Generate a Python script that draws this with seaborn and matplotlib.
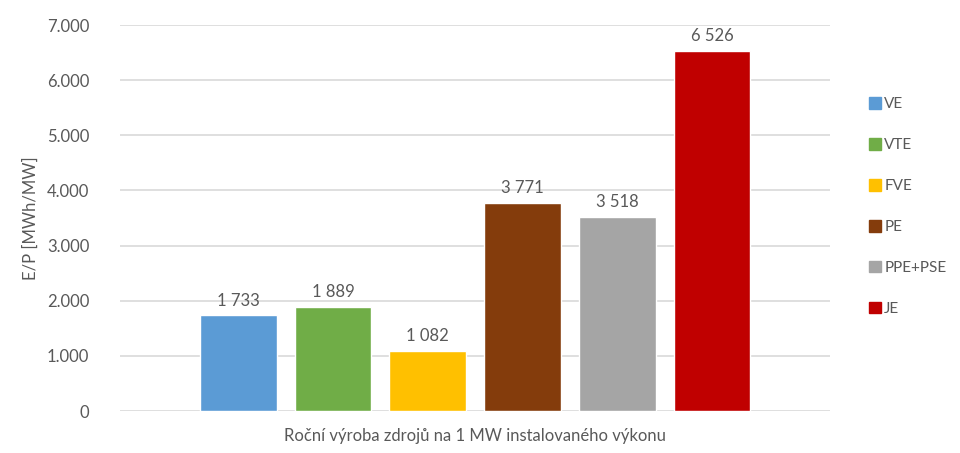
import matplotlib
matplotlib.use("Agg")
import matplotlib.pyplot as plt
import seaborn as sns
import pandas as pd

# Annual production per 1 MW installed capacity
sources = ["VE", "VTE", "FVE", "PE", "PPE+PSE", "JE"]
values = [1733, 1889, 1082, 3771, 3518, 6526]
colors = ["#5B9BD5", "#70AD47", "#FFC000", "#843C0C", "#A5A5A5", "#C00000"]
category = "Roční výroba zdrojů na 1 MW instalovaného výkonu"

df = pd.DataFrame({"group": [category] * len(sources), "source": sources, "value": values})

sns.set_style("white")
plt.rcParams["font.family"] = ["Lato", "DejaVu Sans"]
text_col = "#595959"

fig = plt.figure(figsize=(9.6, 4.53), dpi=100)
ax = fig.add_axes([0.125, 0.0927, 0.74, 0.852])

sns.barplot(data=df, x="group", y="value", hue="source", palette=colors,
            width=0.8, gap=0.19, saturation=1, ax=ax, legend=False, zorder=3)

ax.set_ylim(0, 7000)
ax.set_yticks(range(0, 7001, 1000))
ax.set_yticklabels([f"{v:,}".replace(",", ".") for v in range(0, 7001, 1000)],
                   fontsize=12, color=text_col)
ax.tick_params(axis="y", length=0, pad=22)
ax.set_xticks([])
ax.set_xlabel(category, fontsize=12, color=text_col, labelpad=12)
ax.set_ylabel("E/P [MWh/MW]", fontsize=12, color=text_col, labelpad=6)
ax.yaxis.grid(True, color="#D9D9D9", linewidth=1.2, zorder=0)
for s in ax.spines.values():
    s.set_visible(False)

for cont in ax.containers:
    ax.bar_label(cont, labels=[f"{v:,.0f}".replace(",", " ") for v in cont.datavalues],
                 padding=5, fontsize=12, color=text_col)

handles = [plt.Rectangle((0, 0), 1, 1, color=c) for c in colors]
ax.legend(handles, sources, loc="center left", bbox_to_anchor=(1.035, 0.53),
          frameon=False, handlelength=0.8, handleheight=0.8, handletextpad=0.2,
          labelspacing=1.75, fontsize=11, labelcolor=text_col)

fig.savefig("out.png", dpi=100)
